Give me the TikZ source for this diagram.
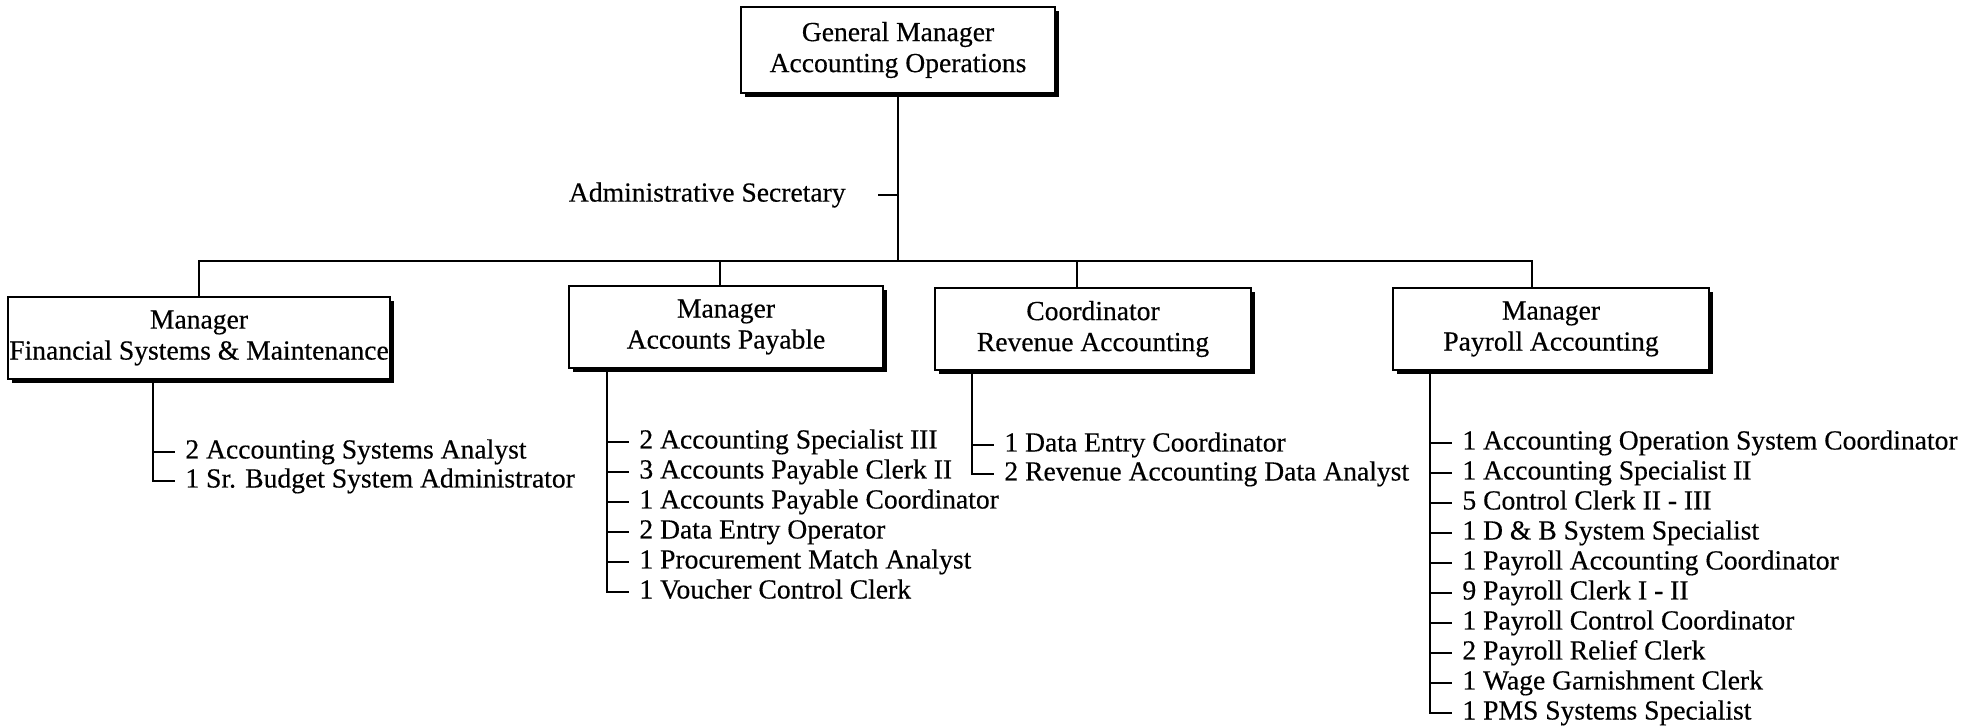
\documentclass[tikz,border=0pt]{standalone}
\usepackage{fontspec}
\setmainfont{Liberation Serif}[FakeBold=0.4]
\usetikzlibrary{shadows}
\begin{document}
\begin{tikzpicture}[x=0.5pt, y=0.5pt, every node/.style={font=\fontsize{13.8}{15.5}\selectfont}]
        \tikzstyle{unit} = [rectangle, draw, fill=white, line width=1.1pt, align=center, inner sep=0.5pt, minimum width=157pt, minimum height=41pt, drop shadow={shadow xshift=2pt, shadow yshift=-2pt, opacity=1, fill=black}]
        \tikzstyle{staff} = [anchor=west, inner xsep=5pt, inner ysep=1pt, text height=9.5pt, text depth=3pt]
        \tikzstyle{link} = [line width=1.2pt]

        \useasboundingbox (0,0) rectangle (1970,-726);

        \node [unit, minimum height=43pt] (gm) at (898,-50) {General Manager\\Accounting Operations};
        \node [unit, minimum width=190pt] (fsm) at (199,-338) {Manager\\Financial Systems \& Maintenance};
        \node [unit] (ap)  at (726,-327)  {Manager\\Accounts Payable};
        \node [unit, minimum width=158pt] (rev) at (1093,-329) {Coordinator\\Revenue Accounting};
        \node [unit, minimum width=158pt] (pay) at (1551,-329) {Manager\\Payroll Accounting};

        \node [anchor=east, inner xsep=16pt] (sec) at (878,-195) {Administrative Secretary};
        \coordinate (bus) at (898,-261);

        \node [staff] (fsm1) at (175,-452) {2 Accounting Systems Analyst};
        \node [staff] (fsm2) at (175,-481) {1 Sr. Budget System Administrator};

        \node [staff] (ap1) at (629,-442) {2 Accounting Specialist III};
        \node [staff] (ap2) at (629,-472) {3 Accounts Payable Clerk II};
        \node [staff] (ap3) at (629,-502) {1 Accounts Payable Coordinator};
        \node [staff] (ap4) at (629,-532) {2 Data Entry Operator};
        \node [staff] (ap5) at (629,-562) {1 Procurement Match Analyst};
        \node [staff] (ap6) at (629,-592) {1 Voucher Control Clerk};

        \node [staff] (rev1) at (994,-445) {1 Data Entry Coordinator};
        \node [staff] (rev2) at (994,-474) {2 Revenue Accounting Data Analyst};

        \node [staff] (pay1)  at (1452,-443) {1 Accounting Operation System Coordinator};
        \node [staff] (pay2)  at (1452,-473) {1 Accounting Specialist II};
        \node [staff] (pay3)  at (1452,-503) {5 Control Clerk II - III};
        \node [staff] (pay4)  at (1452,-533) {1 D \& B System Specialist};
        \node [staff] (pay5)  at (1452,-563) {1 Payroll Accounting Coordinator};
        \node [staff] (pay6)  at (1452,-593) {9 Payroll Clerk I - II};
        \node [staff] (pay7)  at (1452,-623) {1 Payroll Control Coordinator};
        \node [staff] (pay8)  at (1452,-653) {2 Payroll Relief Clerk};
        \node [staff] (pay9)  at (1452,-683) {1 Wage Garnishment Clerk};
        \node [staff] (pay10) at (1452,-713) {1 PMS Systems Specialist};

        \draw [link] (gm.south) -- (bus);
        \draw [link] (sec.east) -- (sec.east -| gm.south);
        \draw [link] (fsm.north) |- (bus) -| ([xshift=-9.5pt]pay.north);
        \draw [link] ([xshift=-3pt]ap.north) -- ([xshift=-3pt]ap.north |- bus);
        \draw [link] ([xshift=-8pt]rev.north) -- ([xshift=-8pt]rev.north |- bus);

        \draw [link] ([xshift=-11pt]fsm2.west |- fsm.south) |- (fsm2.west);
        \draw [link] ([xshift=-11pt]fsm1.west) -- (fsm1.west);

        \draw [link] ([xshift=-11pt]ap6.west |- ap.south) |- (ap6.west);
        \draw [link] ([xshift=-11pt]ap1.west) -- (ap1.west);
        \draw [link] ([xshift=-11pt]ap2.west) -- (ap2.west);
        \draw [link] ([xshift=-11pt]ap3.west) -- (ap3.west);
        \draw [link] ([xshift=-11pt]ap4.west) -- (ap4.west);
        \draw [link] ([xshift=-11pt]ap5.west) -- (ap5.west);

        \draw [link] ([xshift=-11pt]rev2.west |- rev.south) |- (rev2.west);
        \draw [link] ([xshift=-11pt]rev1.west) -- (rev1.west);

        \draw [link] ([xshift=-11pt]pay10.west |- pay.south) |- (pay10.west);
        \draw [link] ([xshift=-11pt]pay1.west) -- (pay1.west);
        \draw [link] ([xshift=-11pt]pay2.west) -- (pay2.west);
        \draw [link] ([xshift=-11pt]pay3.west) -- (pay3.west);
        \draw [link] ([xshift=-11pt]pay4.west) -- (pay4.west);
        \draw [link] ([xshift=-11pt]pay5.west) -- (pay5.west);
        \draw [link] ([xshift=-11pt]pay6.west) -- (pay6.west);
        \draw [link] ([xshift=-11pt]pay7.west) -- (pay7.west);
        \draw [link] ([xshift=-11pt]pay8.west) -- (pay8.west);
        \draw [link] ([xshift=-11pt]pay9.west) -- (pay9.west);
\end{tikzpicture}
\end{document}
